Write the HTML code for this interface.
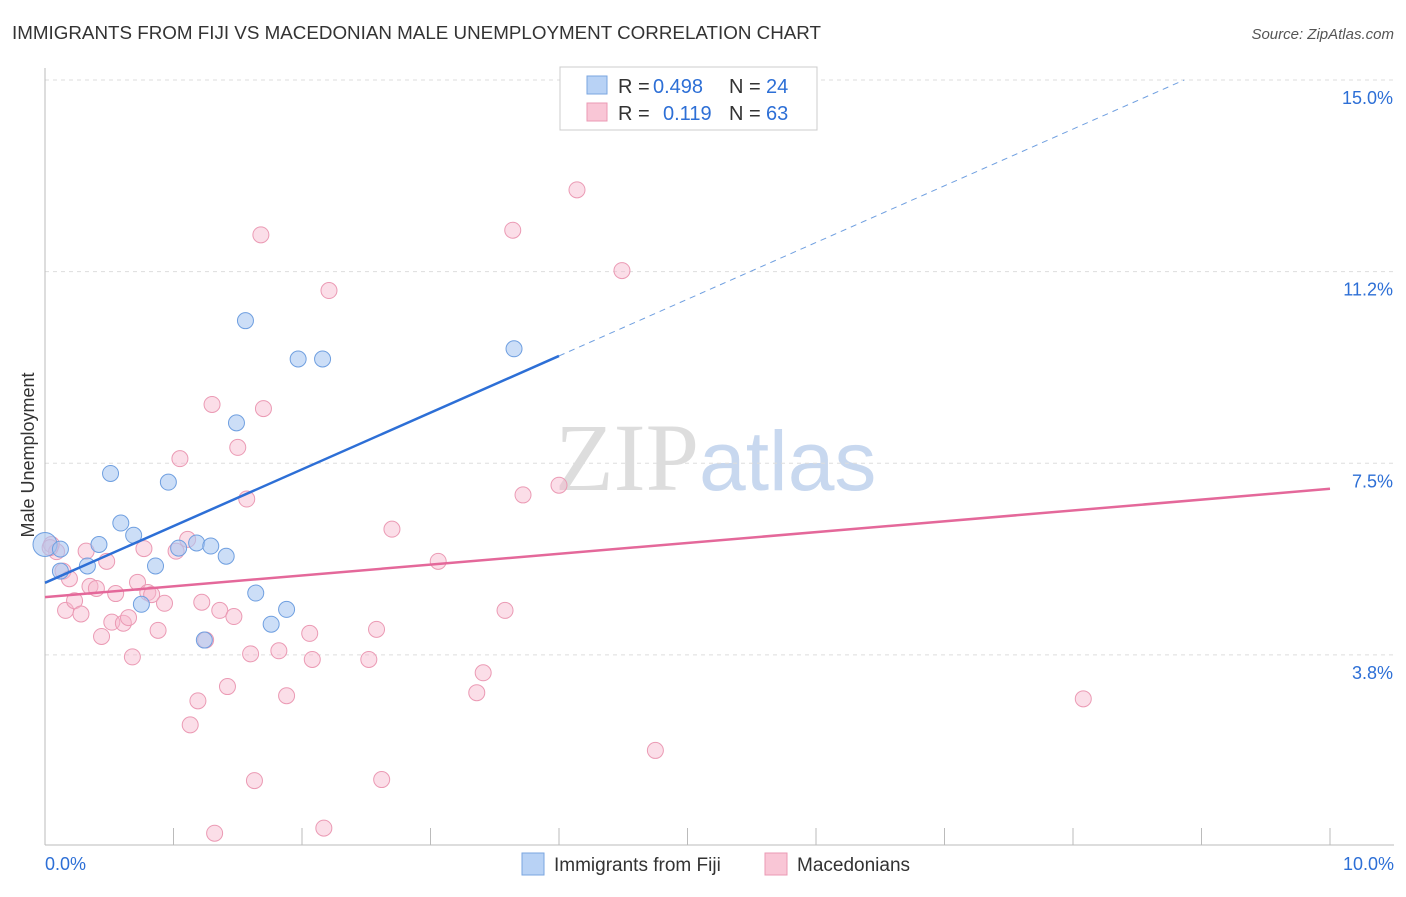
<!DOCTYPE html>
<html><head><meta charset="utf-8"><style>
body{margin:0;background:#fff;font-family:"Liberation Sans",sans-serif;}
</style></head><body>
<svg id="chart" width="1406" height="892" xmlns="http://www.w3.org/2000/svg" font-family="Liberation Sans, sans-serif">
<text x="12" y="39" font-size="18" fill="#333" textLength="809" lengthAdjust="spacingAndGlyphs">IMMIGRANTS FROM FIJI VS MACEDONIAN MALE UNEMPLOYMENT CORRELATION CHART</text>
<text x="1394" y="39" font-size="15" fill="#555" text-anchor="end" font-style="italic">Source: ZipAtlas.com</text>
<text x="555" y="490" font-size="96" fill="#ddd" font-family="Liberation Serif, serif">ZIP<tspan fill="#c8d8ef" font-family="Liberation Sans, sans-serif" font-size="84">atlas</tspan></text>
<g id="grid"></g><g id="axes"></g><g id="marks"></g>
<g>
<rect x="560" y="67" width="257" height="63" fill="#fff" stroke="#ccc"/>
<rect x="587" y="76" width="20" height="18" fill="#b8d2f5" stroke="#7aa6e0"/>
<rect x="587" y="103" width="20" height="18" fill="#f9c6d6" stroke="#eb9ab4"/>
<text x="618" y="93" font-size="20" fill="#333">R =</text>
<text x="653" y="93" font-size="20" fill="#2d6fd6">0.498</text>
<text x="729" y="93" font-size="20" fill="#333">N =</text>
<text x="766" y="93" font-size="20" fill="#2d6fd6">24</text>
<text x="618" y="120" font-size="20" fill="#333">R =</text>
<text x="663" y="120" font-size="20" fill="#2d6fd6">0.119</text>
<text x="729" y="120" font-size="20" fill="#333">N =</text>
<text x="766" y="120" font-size="20" fill="#2d6fd6">63</text>
</g>
<g>
<rect x="522" y="853" width="22" height="22" fill="#b8d2f5" stroke="#7aa6e0"/>
<text x="554" y="871" font-size="19" fill="#333">Immigrants from Fiji</text>
<rect x="765" y="853" width="22" height="22" fill="#f9c6d6" stroke="#eb9ab4"/>
<text x="797" y="871" font-size="19" fill="#333">Macedonians</text>
</g>
<text transform="translate(34,455) rotate(-90)" font-size="18" fill="#333" text-anchor="middle">Male Unemployment</text>
</svg>
<script>
const yTicks=[3.75,7.5,11.25,15];
const yTickLabels=["3.8%","7.5%","11.2%","15.0%"];
const xTickLabels=["0.0%","10.0%"];
const fijiX=[0.0,0.12,0.33,0.42,0.51,0.59,0.69,0.75,0.86,0.96,1.04,1.18,1.24,1.29,1.41,1.49,1.56,1.64,1.76,1.88,1.97,2.16,3.65,0.12];
const fijiY=[5.91,5.39,5.49,5.91,7.30,6.33,6.09,4.74,5.49,7.13,5.84,5.94,4.04,5.88,5.68,8.29,10.29,4.96,4.35,4.64,9.54,9.54,9.74,5.82];
const macX=[0.05,0.09,0.14,0.19,0.16,0.23,0.28,0.32,0.35,0.40,0.44,0.48,0.52,0.55,0.61,0.65,0.68,0.72,0.77,0.80,0.83,0.88,0.93,1.02,1.05,1.11,1.19,1.13,1.22,1.25,1.30,1.32,1.36,1.42,1.47,1.50,1.57,1.60,1.63,1.68,1.70,1.82,1.88,2.06,2.08,2.17,2.21,2.52,2.58,2.62,2.70,3.06,3.36,3.41,3.58,3.64,3.72,4.00,4.14,4.49,4.75,8.08,0.04];
const macY=[5.91,5.77,5.39,5.24,4.62,4.81,4.55,5.78,5.09,5.05,4.11,5.58,4.39,4.95,4.37,4.48,3.71,5.17,5.83,4.97,4.93,4.23,4.76,5.78,7.59,6.01,2.85,2.38,4.78,4.04,8.65,0.26,4.62,3.13,4.50,7.81,6.80,3.77,1.29,11.97,8.57,3.83,2.95,4.17,3.66,0.36,10.88,3.66,4.25,1.31,6.21,5.58,3.01,3.40,4.62,12.06,6.88,7.07,12.85,11.27,1.88,2.89,5.85];
const fijiLine=[5.16,1.11]; const macLine=[4.88,0.212];
const NS="http://www.w3.org/2000/svg";
const X=v=>45+v*128.5, Y=v=>80+(15-v)*51.1;
function mk(t,a,p){const e=document.createElementNS(NS,t);for(const k in a)e.setAttribute(k,a[k]);document.getElementById(p).appendChild(e);return e;}
yTicks.forEach((t,i)=>{
 const g=mk('line',{x1:45,x2:1394,y1:Y(t),y2:Y(t),stroke:'#ddd','stroke-dasharray':'4,4'},'grid');
 
 
 const l=mk('text',{x:1393,y:Y(t)+24,'font-size':18,fill:'#2d6fd6','text-anchor':'end'},'axes');l.textContent=yTickLabels[i];
 
 
});
const ax=mk('line',{x1:45,x2:1394,y1:845,y2:845,stroke:'#bbb'},'axes');


const ay=mk('line',{x1:45,x2:45,y1:68,y2:845,stroke:'#bbb'},'axes');


for(let i=1;i<=10;i++){const t=mk('line',{x1:X(i),x2:X(i),y1:828,y2:845,stroke:'#bbb'},'axes');
 
 }
[[0,'start',45],[10,'end',1394]].forEach((d,i)=>{const l=mk('text',{x:d[2],y:870,'font-size':18,fill:'#2d6fd6','text-anchor':d[1]},'axes');l.textContent=xTickLabels[i];
 
 });
macX.forEach((x,i)=>{const c=mk('circle',{cx:X(x),cy:Y(macY[i]),r:8,fill:'rgba(247,182,203,0.45)',stroke:'#eb9ab4','stroke-width':1},'marks');
 
 });
fijiX.forEach((x,i)=>{const c=mk('circle',{cx:X(x),cy:Y(fijiY[i]),r:i==0?12:8,fill:'rgba(170,200,242,0.6)',stroke:'#6f9fe0','stroke-width':1},'marks');
 
 });
const xe=(15-fijiLine[0])/fijiLine[1];
const b1=mk('line',{x1:X(0),y1:Y(fijiLine[0]),x2:X(4),y2:Y(fijiLine[0]+4*fijiLine[1]),stroke:'#2d6fd6','stroke-width':2.5},'marks');


const b2=mk('line',{x1:X(4),y1:Y(fijiLine[0]+4*fijiLine[1]),x2:X(xe),y2:Y(15),stroke:'#6f9fe0','stroke-width':1,'stroke-dasharray':'6,5'},'marks');


const p1=mk('line',{x1:X(0),y1:Y(macLine[0]),x2:X(10),y2:Y(macLine[0]+10*macLine[1]),stroke:'#e4689a','stroke-width':2.5},'marks');


</script>
</body></html>
